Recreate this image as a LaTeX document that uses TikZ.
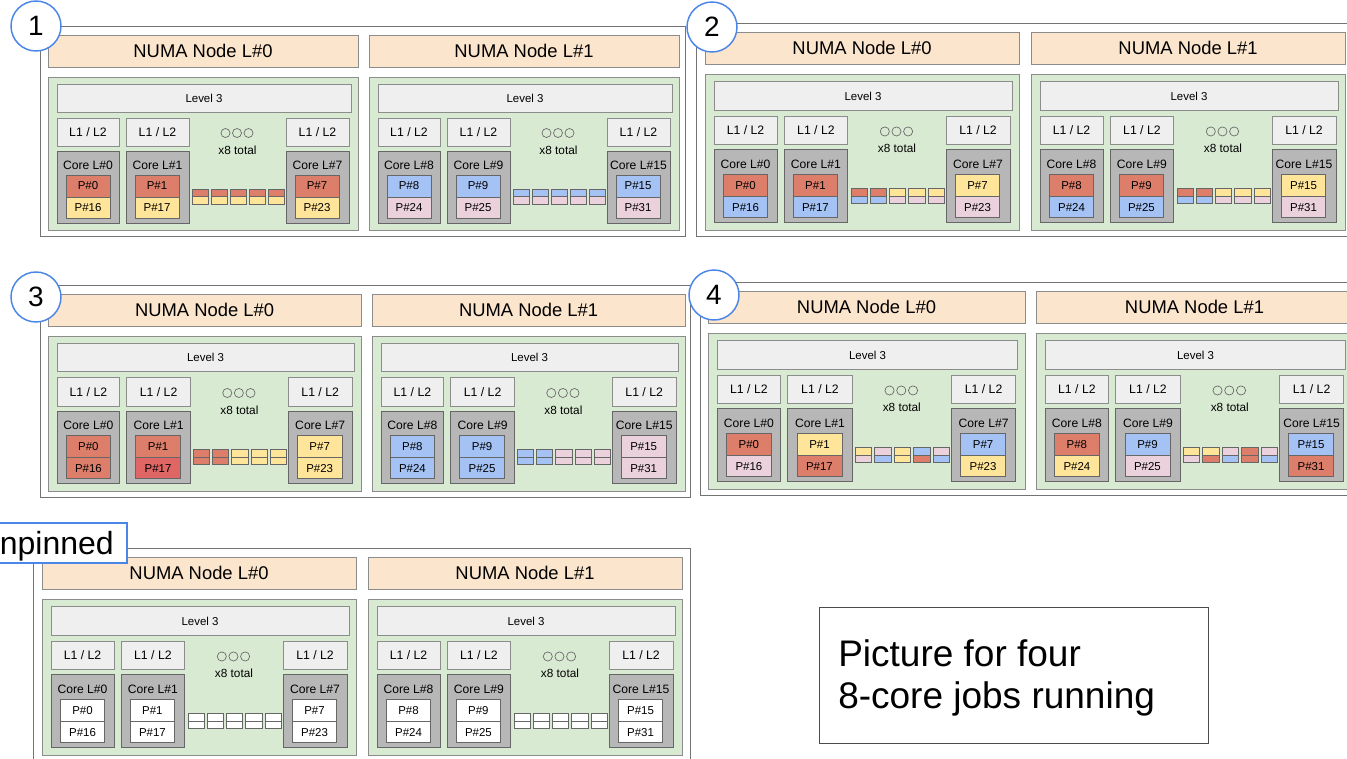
\documentclass[tikz,border=0pt]{standalone}
\usepackage{fontspec}
\setmainfont{Liberation Sans}
\usetikzlibrary{fit}

\definecolor{numafill}{HTML}{FCE5CD}
\definecolor{greenfill}{HTML}{D9EAD3}
\definecolor{cachefill}{HTML}{EFEFEF}
\definecolor{corefill}{HTML}{B7B7B7}
\definecolor{pred}{HTML}{DD7E6B}
\definecolor{pred2}{HTML}{E06666}
\definecolor{pyel}{HTML}{FFE599}
\definecolor{pblue}{HTML}{A4C2F4}
\definecolor{ppink}{HTML}{EAD1DC}
\definecolor{pwhite}{HTML}{FFFFFF}
\definecolor{linegray}{HTML}{8C8C8C}
\definecolor{coreline}{HTML}{666666}
\definecolor{tagblue}{HTML}{4A86E8}

\tikzset{
  box/.style={draw=linegray, line width=0.6pt, inner sep=0pt, outer sep=0pt},
  txt/.style={inner sep=0pt, outer sep=0pt},
  numabox/.style={box, fill=numafill},
  numatext/.style={txt, font=\fontsize{13.8}{15}\selectfont},
  domainbox/.style={box, fill=greenfill},
  cachebox/.style={box, fill=cachefill},
  l3text/.style={txt, font=\fontsize{8.6}{10}\selectfont},
  l12text/.style={txt, font=\fontsize{9.2}{11}\selectfont},
  corebox/.style={box, draw=coreline, fill=corefill},
  corelabel/.style={txt, font=\fontsize{9.1}{11}\selectfont},
  pubox/.style={box, draw=coreline},
  putext/.style={txt, font=\fontsize{8.6}{10}\selectfont},
  slot/.style={box, draw=coreline, line width=0.5pt},
  note/.style={txt, font=\fontsize{8.85}{10}\selectfont},
  dot/.style={draw=black!60, line width=0.5pt},
  panel/.style={draw=black!55, line width=0.6pt, fill=white, inner sep=0pt},
  tag/.style={circle, draw=tagblue, line width=1.1pt, fill=white,
    minimum size=37.5pt, inner sep=0pt, font=\fontsize{21}{21}\selectfont},
}

% One NUMA node: #1 name prefix, #2 node index,
% #3 cores as core/top colour/bottom colour, #4 the five slot colour pairs
\newcommand\numahalf[4]{%
  \node[numabox, fit={(0,0) (310,32)}] (#1-numa) {};
  \node[numatext] (#1-numat) at (#1-numa.center) {NUMA Node L\##2};
  \node[domainbox, fit={(0,42) (310,195)}] (#1-dom) {};
  \node[cachebox, fit={(9,49) (303,77)}] (#1-l3) {};
  \node[l3text] (#1-l3t) at (#1-l3.center) {Level 3};
  \foreach \k/\ct/\cb [count=\i] in {#3} {
    \pgfmathsetmacro\xl{{9,78,238}[\i-1]}
    \pgfmathsetmacro\xr{{71,141,301}[\i-1]}
    \node[cachebox, fit={(\xl,83) (\xr,111)}] (#1-l\i) {};
    \node[l12text] (#1-lt\i) at (#1-l\i.center) {L1 / L2};
    \node[corebox, fit={(\xl,116) (\xr,188)}] (#1-core\i) {};
    \node[corelabel] (#1-cl\i) at ({(\xl+\xr)/2},130) {Core L\#\k};
    \node[pubox, fill=\ct, fit={(\xl+9,140) (\xl+53,162)}] (#1-pa\i) {};
    \node[putext] (#1-pat\i) at (#1-pa\i.center) {P\#\k};
    \node[pubox, fill=\cb, fit={(\xl+9,162) (\xl+53,183)}] (#1-pb\i) {};
    \node[putext] (#1-pbt\i) at (#1-pb\i.center) {P\#\the\numexpr\k+16\relax};
  }
  \foreach \j in {0,1,2} \draw[dot] (177.5+11.5*\j,98) circle (4.5);
  \node[note] (#1-note) at (189.5,115) {x8 total};
  \foreach \st/\sb [count=\j] in {#4} {
    \node[slot, fill=\st, fit={(144+19*\j-19,154) (160+19*\j-19,161.5)}] (#1-sa\j) {};
    \node[slot, fill=\sb, fit={(144+19*\j-19,161.5) (160+19*\j-19,169)}] (#1-sb\j) {};
  }
}

\begin{document}
\begin{tikzpicture}[x=0.75pt, y=-0.75pt]
\useasboundingbox (0,0) rectangle (1347,758);

% ---- 1: jobs packed by hardware thread
\node[panel, fit={(40,26) (685,236)}] (p1) {};
\begin{scope}[shift={(48,35)}]
  \numahalf{p1a}{0}{0/pred/pyel,1/pred/pyel,7/pred/pyel}
    {pred/pyel,pred/pyel,pred/pyel,pred/pyel,pred/pyel}
\end{scope}
\begin{scope}[shift={(369,35)}]
  \numahalf{p1b}{1}{8/pblue/ppink,9/pblue/ppink,15/pblue/ppink}
    {pblue/ppink,pblue/ppink,pblue/ppink,pblue/ppink,pblue/ppink}
\end{scope}
\node[tag] (t1) at (36,26) {1};

% ---- 2: jobs split across cores
\node[panel, fit={(696,23) (1360,236)}] (p2) {};
\begin{scope}[shift={(705,32)}, x=0.7598pt, y=-0.7612pt]
  \numahalf{p2a}{0}{0/pred/pblue,1/pred/pblue,7/pyel/ppink}
    {pred/pblue,pred/pblue,pyel/ppink,pyel/ppink,pyel/ppink}
\end{scope}
\begin{scope}[shift={(1031,32)}, x=0.7598pt, y=-0.7612pt]
  \numahalf{p2b}{1}{8/pred/pblue,9/pred/pblue,15/pyel/ppink}
    {pred/pblue,pred/pblue,pyel/ppink,pyel/ppink,pyel/ppink}
\end{scope}
\node[tag] (t2) at (712,27) {2};

% ---- 3: whole cores per job
\node[panel, fit={(40,285) (690,497)}] (p3) {};
\begin{scope}[shift={(48,294)}, x=0.7575pt, y=-0.7575pt]
  \numahalf{p3a}{0}{0/pred/pred,1/pred/pred2,7/pyel/pyel}
    {pred/pred,pred/pred,pyel/pyel,pyel/pyel,pyel/pyel}
\end{scope}
\begin{scope}[shift={(372,294)}, x=0.7575pt, y=-0.7575pt]
  \numahalf{p3b}{1}{8/pblue/pblue,9/pblue/pblue,15/ppink/ppink}
    {pblue/pblue,pblue/pblue,ppink/ppink,ppink/ppink,ppink/ppink}
\end{scope}
\node[tag] (t3) at (36,297) {3};

% ---- 4: jobs scattered
\node[panel, fit={(700,282) (1360,495)}] (p4) {};
\begin{scope}[shift={(708,291)}, x=0.767pt, y=-0.7612pt]
  \numahalf{p4a}{0}{0/pred/ppink,1/pyel/pred,7/pblue/pyel}
    {pyel/ppink,ppink/pblue,pyel/pyel,pblue/pred,ppink/pblue}
\end{scope}
\begin{scope}[shift={(1036,291)}, x=0.767pt, y=-0.7612pt]
  \numahalf{p4b}{1}{8/pred/pyel,9/pblue/ppink,15/pblue/pred}
    {pyel/ppink,pyel/pred,ppink/pblue,pred/pred,ppink/pblue}
\end{scope}
\node[tag] (t4) at (714,295) {4};

% ---- unpinned
\node[panel, fit={(33,548) (690,775)}] (p5) {};
\begin{scope}[shift={(42,557)}, x=0.7598pt, y=-0.7612pt]
  \numahalf{p5a}{0}{0/pwhite/pwhite,1/pwhite/pwhite,7/pwhite/pwhite}
    {pwhite/pwhite,pwhite/pwhite,pwhite/pwhite,pwhite/pwhite,pwhite/pwhite}
\end{scope}
\begin{scope}[shift={(368,557)}, x=0.7598pt, y=-0.7612pt]
  \numahalf{p5b}{1}{8/pwhite/pwhite,9/pwhite/pwhite,15/pwhite/pwhite}
    {pwhite/pwhite,pwhite/pwhite,pwhite/pwhite,pwhite/pwhite,pwhite/pwhite}
\end{scope}
\node[draw=tagblue, line width=0.9pt, fill=white, inner sep=0pt,
  fit={(-20,523) (127,563)}] (ubox) {};
\node[anchor=base east, inner sep=0pt, font=\fontsize{24}{24}\selectfont]
  (utext) at (114,554) {npinned};

% ---- caption
\node[draw=black!70, line width=0.7pt, inner sep=0pt,
  fit={(819,607) (1208,743)}] (caption) {};
\node[anchor=base west, inner sep=0pt, font=\fontsize{27.75}{30}\selectfont]
  (cap1) at (838,666) {Picture for four};
\node[anchor=base west, inner sep=0pt, font=\fontsize{27.75}{30}\selectfont]
  (cap2) at (838,708) {8-core jobs running};
\end{tikzpicture}
\end{document}
